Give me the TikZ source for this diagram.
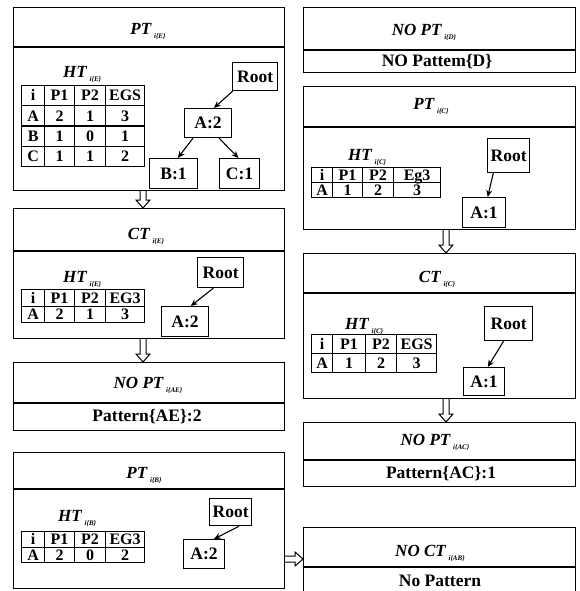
\documentclass[tikz,border=0pt]{standalone}
\usepackage{fontspec}
\setmainfont{Liberation Serif}
\usetikzlibrary{calc,arrows.meta,matrix}

\newcommand\lsub[1]{\,\raisebox{-4pt}{\fontsize{7}{8}\selectfont #1}}
\newcommand\mainf{\fontsize{17.5}{20}\selectfont\bfseries}
\newcommand\tabf{\fontsize{16}{18}\selectfont\bfseries}

\tikzset{
  box/.style={draw, line width=1.2pt, inner sep=0pt, anchor=north west},
  div/.style={line width=1.2pt},
  hdr/.style={font=\fontsize{17}{20}\selectfont\bfseries\itshape, inner sep=0pt, anchor=base},
  btxt/.style={font=\mainf, inner sep=0pt, anchor=base},
  htlabel/.style={font=\fontsize{17}{20}\selectfont\bfseries\itshape, inner sep=0pt, anchor=base west},
  tnode/.style={draw, line width=1.2pt, font=\mainf, inner sep=0pt, anchor=north west},
  tarr/.style={line width=1.1pt, -{Stealth[length=7pt,width=6pt]}},
  hollow/.style={draw, line width=1pt, fill=white},
  cell/.style={draw, line width=1.2pt, inner sep=0pt, anchor=center, text height=10.5pt, text depth=0pt, font=\tabf},
  htab/.style={matrix of nodes, anchor=north west, inner sep=0pt, outer sep=0pt,
    column sep=-1.2pt, row sep=-1.2pt, nodes={cell, minimum height=#1}},
  colw/.style n args={4}{column 1/.style={nodes={minimum width=#1}},
    column 2/.style={nodes={minimum width=#2}},
    column 3/.style={nodes={minimum width=#3}},
    column 4/.style={nodes={minimum width=#4}}}
}

\begin{document}
\begin{tikzpicture}[x=1pt,y=-1pt]
\useasboundingbox (0,0) rectangle (579,591);

% ---------- left column ----------
% L1 : PT_{i{E}}
\node[box, minimum width=271pt, minimum height=183pt] (L1) at (13,7) {};
\draw[div] ($(L1.north west)+(0,40)$) -- ($(L1.north east)+(0,40)$);
\node[hdr] (L1t) at (148,35) {PT\lsub{i\{E\}}};
\node[htlabel] (L1ht) at (63,78) {HT\lsub{i\{E\}}};
\matrix[htab=20.25pt, colw={23pt}{30pt}{31pt}{39pt}] (L1tab) at (21,85) {
  i & P1 & P2 & EGS\\
  A & 2 & 1 & 3\\
  B & 1 & 0 & 1\\
  C & 1 & 1 & 2\\
};
\node[tnode, minimum width=45pt, minimum height=28pt] (L1root) at (232,62) {Root};
\node[tnode, minimum width=47pt, minimum height=29pt] (L1a) at (184,108) {A:2};
\node[tnode, minimum width=48pt, minimum height=30pt] (L1b) at (149,158) {B:1};
\node[tnode, minimum width=40pt, minimum height=30pt] (L1c) at (219,158) {C:1};
\draw[tarr] (L1root.213) -- (L1a.69);
\draw[tarr] (L1a.225) -- (L1b.75);
\draw[tarr] (L1a.306) -- (L1c.94);

% L2 : CT_{i{E}}
\node[box, minimum width=271pt, minimum height=130pt] (L2) at (13,208) {};
\draw[div] ($(L2.north west)+(0,43)$) -- ($(L2.north east)+(0,43)$);
\node[hdr] (L2t) at (146,239) {CT\lsub{i\{E\}}};
\node[htlabel] (L2ht) at (63,282) {HT\lsub{i\{E\}}};
\matrix[htab=16.5pt, colw={23pt}{30pt}{31pt}{39pt}] (L2tab) at (21,289) {
  i & P1 & P2 & EG3\\
  A & 2 & 1 & 3\\
};
\node[tnode, minimum width=46pt, minimum height=30pt] (L2root) at (197,257) {Root};
\node[tnode, minimum width=47pt, minimum height=30pt] (L2a) at (161,306) {A:2};
\draw[tarr] (L2root.245) -- (L2a.70);

% L3 : NO PT_{i{AE}}
\node[box, minimum width=271pt, minimum height=68pt] (L3) at (13,362) {};
\draw[div] ($(L3.north west)+(0,41)$) -- ($(L3.north east)+(0,41)$);
\node[hdr] (L3t) at (148,388) {NO PT\lsub{i\{AE\}}};
\node[btxt] (L3b) at (147,421) {Pattern\{AE\}:2};

% L4 : PT_{i{B}}
\node[box, minimum width=271pt, minimum height=136pt] (L4) at (13,452) {};
\draw[div] ($(L4.north west)+(0,37)$) -- ($(L4.north east)+(0,37)$);
\node[hdr] (L4t) at (144,478) {PT\lsub{i\{B\}}};
\node[htlabel] (L4ht) at (58,521) {HT\lsub{i\{B\}}};
\matrix[htab=15.5pt, colw={23pt}{30pt}{31pt}{39pt}] (L4tab) at (21,531) {
  i & P1 & P2 & EG3\\
  A & 2 & 0 & 2\\
};
\node[tnode, minimum width=42pt, minimum height=27pt] (L4root) at (209,498) {Root};
\node[tnode, minimum width=41pt, minimum height=29pt] (L4a) at (183,539) {A:2};
\draw[tarr] (L4root.301) -- (L4a.57);

% ---------- right column ----------
% R1 : NO PT_{i{D}}
\node[box, minimum width=272pt, minimum height=65pt] (R1) at (303,7) {};
\draw[div] ($(R1.north west)+(0,43)$) -- ($(R1.north east)+(0,43)$);
\node[hdr] (R1t) at (424,36) {NO PT\lsub{i\{D\}}};
\node[btxt] (R1b) at (437,67) {NO Pattem\{D\}};

% R2 : PT_{i{C}}
\node[box, minimum width=272pt, minimum height=143pt] (R2) at (303,86) {};
\draw[div] ($(R2.north west)+(0,41)$) -- ($(R2.north east)+(0,41)$);
\node[hdr] (R2t) at (431,110) {PT\lsub{i\{C\}}};
\node[htlabel] (R2ht) at (348,160) {HT\lsub{i\{C\}}};
\matrix[htab=15pt, colw={21pt}{30pt}{31pt}{47pt}] (R2tab) at (311,167) {
  i & P1 & P2 & Eg3\\
  A & 1 & 2 & 3\\
};
\node[tnode, minimum width=42pt, minimum height=34pt] (R2root) at (487,138) {Root};
\node[tnode, minimum width=43pt, minimum height=30pt] (R2a) at (462,197) {A:1};
\draw[tarr] (R2root.229) -- (R2a.77);

% R3 : CT_{i{C}}
\node[box, minimum width=272pt, minimum height=145pt] (R3) at (303,253) {};
\draw[div] ($(R3.north west)+(0,40)$) -- ($(R3.north east)+(0,40)$);
\node[hdr] (R3t) at (437,282) {CT\lsub{i\{C\}}};
\node[htlabel] (R3ht) at (345,329) {HT\lsub{i\{C\}}};
\matrix[htab=19pt, colw={21pt}{33pt}{31pt}{40pt}] (R3tab) at (311,334) {
  i & P1 & P2 & EGS\\
  A & 1 & 2 & 3\\
};
\node[tnode, minimum width=48pt, minimum height=34pt] (R3root) at (484,306) {Root};
\node[tnode, minimum width=41pt, minimum height=28pt] (R3a) at (463,367) {A:1};
\draw[tarr] (R3root.254) -- (R3a.76);

% R4 : NO PT_{i{AC}}
\node[box, minimum width=272pt, minimum height=64pt] (R4) at (303,422) {};
\draw[div] ($(R4.north west)+(0,38)$) -- ($(R4.north east)+(0,38)$);
\node[hdr] (R4t) at (435,445) {NO PT\lsub{i\{AC\}}};
\node[btxt] (R4b) at (441,478) {Pattern\{AC\}:1};

% R5 : NO CT_{i{AB}}
\node[box, minimum width=272pt, minimum height=83pt] (R5) at (303,527) {};
\draw[div] ($(R5.north west)+(0,40)$) -- ($(R5.north east)+(0,40)$);
\node[hdr] (R5t) at (430,556) {NO CT\lsub{i\{AB\}}};
\node[btxt] (R5b) at (440,586) {No Pattern};

% ---------- hollow arrows ----------
\coordinate (axL) at (143,0);
\coordinate (axR) at (446,0);
\coordinate (ayB) at (0,559);
\draw[hollow] let \p0=(axL), \p1=(L1.south), \p2=(L2.north) in
  (\x0-3pt,\y1) -- (\x0-3pt,\y2+8pt) -- (\x0-7pt,\y2+8pt) -- (\x0,\y2)
  -- (\x0+7pt,\y2+8pt) -- (\x0+3pt,\y2+8pt) -- (\x0+3pt,\y1);
\draw[hollow] let \p0=(axL), \p1=(L2.south), \p2=(L3.north) in
  (\x0-3pt,\y1) -- (\x0-3pt,\y2+8pt) -- (\x0-7pt,\y2+8pt) -- (\x0,\y2)
  -- (\x0+7pt,\y2+8pt) -- (\x0+3pt,\y2+8pt) -- (\x0+3pt,\y1);
\draw[hollow] let \p0=(axR), \p1=(R2.south), \p2=(R3.north) in
  (\x0-3pt,\y1) -- (\x0-3pt,\y2+8pt) -- (\x0-7pt,\y2+8pt) -- (\x0,\y2)
  -- (\x0+7pt,\y2+8pt) -- (\x0+3pt,\y2+8pt) -- (\x0+3pt,\y1);
\draw[hollow] let \p0=(axR), \p1=(R3.south), \p2=(R4.north) in
  (\x0-3pt,\y1) -- (\x0-3pt,\y2+8pt) -- (\x0-7pt,\y2+8pt) -- (\x0,\y2)
  -- (\x0+7pt,\y2+8pt) -- (\x0+3pt,\y2+8pt) -- (\x0+3pt,\y1);
\draw[hollow] let \p0=(ayB), \p1=(L4.east), \p2=(R5.west) in
  (\x1,\y0+3pt) -- (\x2-8pt,\y0+3pt) -- (\x2-8pt,\y0+7pt) -- (\x2,\y0)
  -- (\x2-8pt,\y0-7pt) -- (\x2-8pt,\y0-3pt) -- (\x1,\y0-3pt);
\end{tikzpicture}
\end{document}
